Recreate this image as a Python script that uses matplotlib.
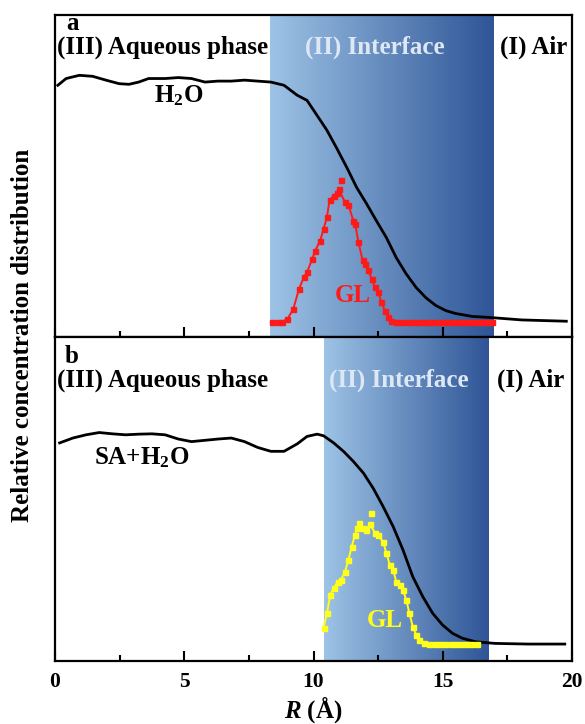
import numpy as np
import matplotlib
matplotlib.use("Agg")
import matplotlib.pyplot as plt
from matplotlib.colors import LinearSegmentedColormap

plt.rcParams['font.family'] = ['Liberation Serif', 'DejaVu Serif']
plt.rcParams['font.weight'] = 'bold'
plt.rcParams['mathtext.fontset'] = 'custom'
plt.rcParams['mathtext.rm'] = 'Liberation Serif:bold'
plt.rcParams['mathtext.it'] = 'Liberation Serif:bold:italic'
plt.rcParams['mathtext.bf'] = 'Liberation Serif:bold'

# ---------------- data: panel a ----------------
h2o_a_r = [0.11, 0.43, 0.94, 1.45, 1.97, 2.48, 2.86, 3.24, 3.62, 4.26, 4.77, 5.28,
           5.80, 6.31, 6.82, 7.33, 7.84, 8.35, 8.86, 9.37, 9.75, 10.14, 10.52, 10.90,
           11.29, 11.67, 12.05, 12.43, 12.82, 13.20, 13.58, 13.97, 14.35, 14.73,
           15.12, 15.50, 16.14, 16.77, 18.06, 19.78]
h2o_a_v = [0.782, 0.803, 0.813, 0.810, 0.798, 0.787, 0.785, 0.792, 0.803, 0.803, 0.806, 0.803,
           0.792, 0.795, 0.795, 0.798, 0.795, 0.792, 0.782, 0.751, 0.735, 0.688, 0.642, 0.586,
           0.526, 0.464, 0.414, 0.361, 0.308, 0.246, 0.196, 0.153, 0.121, 0.097,
           0.081, 0.072, 0.063, 0.060, 0.052, 0.048]

gl_a_r = [8.41, 8.61, 8.80, 8.99, 9.22, 9.44, 9.63, 9.75, 9.95, 10.07, 10.26, 10.39,
          10.52, 10.62, 10.78, 10.90, 10.97, 11.22, 11.35, 11.54, 11.61, 11.74, 11.90,
          11.99, 12.12, 12.25, 12.37, 12.50, 12.63, 12.76, 12.89, 13.01, 13.20,
          13.40, 13.60, 13.80, 14.00, 14.20, 14.40, 14.60, 14.80, 15.00, 15.20,
          15.40, 15.60, 15.80, 16.00, 16.20, 16.40, 16.60, 16.80, 16.90]
gl_a_v = [0.045, 0.045, 0.047, 0.055, 0.086, 0.149, 0.185, 0.200, 0.242, 0.268, 0.299, 0.335,
          0.372, 0.424, 0.439, 0.447, 0.460, 0.418, 0.410, 0.361, 0.351, 0.294, 0.237,
          0.226, 0.206, 0.180, 0.154, 0.138, 0.107, 0.081, 0.060, 0.050, 0.045,
          0.045, 0.045, 0.045, 0.045, 0.045, 0.045, 0.045, 0.045, 0.045, 0.045,
          0.045, 0.045, 0.045, 0.045, 0.045, 0.045, 0.045, 0.045, 0.045]
gl_a_outlier = ([11.06], [0.486])

# ---------------- data: panel b ----------------
h2o_b_r = [0.18, 0.69, 1.20, 1.71, 2.22, 2.73, 3.24, 3.75, 4.26, 4.77, 5.28, 5.80,
           6.31, 6.82, 7.33, 7.84, 8.35, 8.86, 9.37, 9.75, 10.14, 10.39, 10.78, 11.16,
           11.54, 11.93, 12.31, 12.69, 13.08, 13.46, 13.84, 14.23, 14.61, 14.99,
           15.38, 15.76, 16.27, 17.03, 18.31, 19.72]
h2o_b_v = [0.672, 0.687, 0.697, 0.704, 0.700, 0.697, 0.699, 0.700, 0.697, 0.684, 0.676, 0.680,
           0.684, 0.687, 0.676, 0.658, 0.646, 0.646, 0.669, 0.692, 0.699, 0.694, 0.672, 0.646,
           0.615, 0.579, 0.532, 0.476, 0.414, 0.342, 0.259, 0.197, 0.146, 0.110,
           0.084, 0.069, 0.058, 0.053, 0.051, 0.051]

gl_b_r = [10.39, 10.52, 10.65, 10.78, 10.93, 11.06, 11.22, 11.35, 11.48, 11.60, 11.70,
          11.93, 12.05, 12.18, 12.37, 12.50, 12.69, 12.82, 12.95, 13.08, 13.20, 13.33,
          13.46, 13.59, 13.71, 13.84, 13.97, 14.10, 14.29, 14.48, 14.70, 14.90, 15.10,
          15.30, 15.50, 15.70, 15.90, 16.10, 16.33]
gl_b_v = [0.102, 0.146, 0.203, 0.223, 0.244, 0.249, 0.275, 0.311, 0.352, 0.388, 0.409,
          0.409, 0.404, 0.422, 0.395, 0.388, 0.367, 0.332, 0.295, 0.280, 0.244, 0.234,
          0.218, 0.187, 0.146, 0.105, 0.079, 0.064, 0.055, 0.051, 0.050, 0.050, 0.050,
          0.050, 0.050, 0.050, 0.050, 0.050, 0.050]
gl_b_outlier = ([11.76, 12.21], [0.424, 0.457])

interface_a = (8.31, 16.96)
interface_b = (10.42, 16.79)

xticks = [0, 5, 10, 15, 20]

# ---------------- figure ----------------
fig = plt.figure(figsize=(5.85, 7.24), dpi=100)
L, R = 55 / 585, 572 / 585
axa = fig.add_axes([L, 0.535, R - L, 0.979 - 0.535])
axb = fig.add_axes([L, 0.0876, R - L, 0.535 - 0.0876])

cmap = LinearSegmentedColormap.from_list('iface', ['#9dc3e6', '#2f5597'])
grad = np.linspace(0, 1, 256).reshape(1, -1)

def style(ax, show_labels):
    ax.set_xlim(0, 20)
    ax.set_ylim(0, 1)
    ax.set_yticks([])
    ax.set_xticks(xticks)
    ax.set_xticks(np.arange(2.5, 20, 5), minor=True)
    ax.tick_params(axis='x', which='major', direction='in', length=7, width=1.5,
                   labelsize=15.5, pad=8)
    ax.tick_params(axis='x', which='minor', direction='in', length=4, width=1.5)
    if not show_labels:
        ax.tick_params(axis='x', labelbottom=False)
    for s in ax.spines.values():
        s.set_linewidth(1.6)

def panel(ax, iface, h_r, h_v, g_r, g_v, g_out, gcol, letter, hlabel, hpos, glpos,
          lab_y, iface_x, air_x):
    ax.imshow(grad, cmap=cmap, aspect='auto', extent=[iface[0], iface[1], 0, 1],
              zorder=0)
    ax.plot(h_r, h_v, color='black', lw=2.0, zorder=3)
    ax.plot(g_r, g_v, color=gcol, lw=1.4, marker='s', ms=3.6, zorder=4)
    ax.plot(g_out[0], g_out[1], ls='none', color=gcol, marker='s', ms=3.6, zorder=4)
    ax.text(0.033, lab_y + 0.075, letter, transform=ax.transAxes, fontsize=18,
            fontweight='bold', ha='center', va='center')
    ax.text(0.004, lab_y, '(III) Aqueous phase', transform=ax.transAxes, fontsize=18,
            fontweight='bold', ha='left', va='center')
    ax.text(iface_x, lab_y, '(II) Interface', transform=ax.transAxes, fontsize=18,
            fontweight='bold', ha='center', va='center', color='#dde8f4')
    ax.text(air_x, lab_y, '(I) Air', transform=ax.transAxes, fontsize=18,
            fontweight='bold', ha='right', va='center')
    ax.text(hpos[0], hpos[1], hlabel, fontsize=18, fontweight='bold',
            ha='center', va='center')
    ax.text(glpos[0], glpos[1], 'GL', fontsize=18, fontweight='bold',
            ha='center', va='center', color=gcol)

panel(axa, interface_a, h2o_a_r, h2o_a_v, gl_a_r, gl_a_v, gl_a_outlier, '#ff1a1a',
      'a', r'H$_2$O', (4.77, 0.75), (11.5, 0.128), 0.90, 0.618, 0.99)
panel(axb, interface_b, h2o_b_r, h2o_b_v, gl_b_r, gl_b_v, gl_b_outlier, '#ffff1a',
      'b', r'SA+H$_2$O', (3.37, 0.625), (12.76, 0.125), 0.865, 0.665, 0.985)

style(axa, False)
style(axb, True)
axb.set_xlabel(r'$R$ (Å)', fontsize=18, fontweight='bold', labelpad=2)

fig.text(0.038, 0.537, 'Relative concentration distribution', rotation=90,
         fontsize=18, fontweight='bold', ha='center', va='center')

fig.savefig('out.png', dpi=100)
